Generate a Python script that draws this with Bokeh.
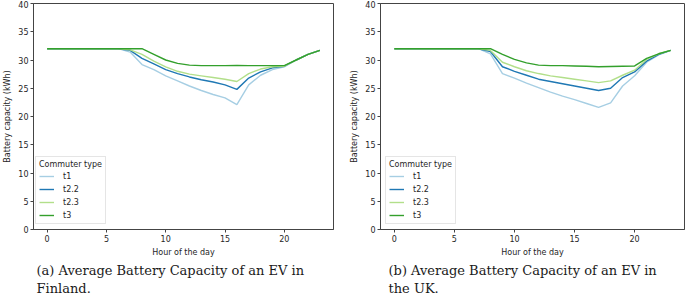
from bokeh.plotting import figure
from bokeh.layouts import row
from bokeh.models import FixedTicker, Title
from bokeh.embed import file_html
from bokeh.resources import INLINE

hours = list(range(24))
series_names = ["t1", "t2.2", "t2.3", "t3"]
colors = ["#a6cee3", "#1f78b4", "#b2df8a", "#33a02c"]

fin_t1 = [32] * 7 + [31.4, 29.2, 28.3, 27.2, 26.3, 25.4, 24.6, 23.9, 23.3, 22.1, 25.6, 27.3, 28.3, 28.8, 30.0, 31.0, 31.7]
fin_t22 = [32] * 7 + [31.7, 30.3, 29.3, 28.3, 27.6, 27.0, 26.5, 26.1, 25.6, 24.8, 26.8, 27.9, 28.6, 28.9, 30.0, 31.0, 31.7]
fin_t23 = [32] * 7 + [31.8, 31.0, 29.8, 28.8, 28.0, 27.5, 27.2, 26.9, 26.6, 26.2, 27.6, 28.4, 28.8, 28.9, 30.0, 31.0, 31.7]
fin_t3 = [32] * 9 + [31.0, 30.0, 29.4, 29.1, 29.0, 29.0, 29.0, 29.05, 29.0, 29.0, 29.0, 29.0, 30.0, 31.0, 31.7]

uk_t1 = [32] * 8 + [31.1, 27.6, 26.8, 25.9, 25.1, 24.3, 23.6, 23.0, 22.3, 21.6, 22.4, 25.4, 27.2, 29.6, 30.9, 31.7]
uk_t22 = [32] * 8 + [31.5, 28.8, 28.0, 27.3, 26.6, 26.2, 25.8, 25.4, 25.0, 24.6, 25.0, 26.9, 27.9, 29.8, 31.0, 31.7]
uk_t23 = [32] * 8 + [31.7, 29.6, 28.8, 28.1, 27.6, 27.2, 26.9, 26.6, 26.3, 26.0, 26.3, 27.3, 28.2, 30.1, 31.1, 31.7]
uk_t3 = [32] * 9 + [31.0, 30.1, 29.5, 29.1, 29.0, 29.0, 28.95, 28.9, 28.8, 28.85, 28.9, 28.95, 30.3, 31.1, 31.7]

x_ticks = [0, 5, 10, 15, 20]
y_ticks = [0, 5, 10, 15, 20, 25, 30, 35, 40]

captions_fin = ["(a) Average Battery Capacity of an EV in", "Finland."]
captions_uk = ["(b) Average Battery Capacity of an EV in", "the UK."]

TXT = "#262626"
SP = "#444444"


def make_panel(series, caption, width, bl, br, leg_x, cap_off):
    p = figure(width=width, height=298, x_range=(-1.15, 24.15), y_range=(0, 40),
               output_backend="svg", toolbar_location=None,
               min_border_left=bl, min_border_right=br, min_border_top=3,
               min_border_bottom=69)
    p.xgrid.visible = False
    p.ygrid.visible = False
    p.outline_line_color = SP
    p.outline_line_width = 1
    for name, col, vals in zip(series_names, colors, series):
        p.line(hours, vals, line_color=col, line_width=1.4, legend_label=name)
    for ax in (p.xaxis[0], p.yaxis[0]):
        ax.axis_line_color = SP
        ax.major_tick_line_color = SP
        ax.minor_tick_line_color = None
        ax.major_tick_out = 3
        ax.major_tick_in = 0
        ax.major_label_standoff = 2
        ax.major_label_text_font = "DejaVu Sans"
        ax.major_label_text_font_size = "8px"
        ax.major_label_text_color = TXT
        ax.axis_label_text_font = "DejaVu Sans"
        ax.axis_label_text_font_size = "8px"
        ax.axis_label_text_font_style = "normal"
        ax.axis_label_text_color = TXT
        ax.axis_label_standoff = 3
    p.xaxis[0].ticker = FixedTicker(ticks=x_ticks)
    p.yaxis[0].ticker = FixedTicker(ticks=y_ticks)
    p.xaxis[0].axis_label = "Hour of the day"
    p.yaxis[0].axis_label = "Battery capacity (kWh)"

    lg = p.legend[0]
    lg.location = (leg_x, 5)
    lg.title = "Commuter type"
    lg.title_text_font = "DejaVu Sans"
    lg.title_text_font_size = "8px"
    lg.title_text_font_style = "normal"
    lg.title_text_color = TXT
    lg.title_standoff = 2
    lg.label_text_font = "DejaVu Sans"
    lg.label_text_font_size = "8px"
    lg.label_text_color = TXT
    lg.label_height = 10
    lg.glyph_height = 10
    lg.glyph_width = 15
    lg.label_standoff = 9
    lg.spacing = 3
    lg.padding = 3
    lg.margin = 0
    lg.border_line_color = "#cccccc"
    lg.border_line_width = 1
    lg.background_fill_alpha = 0.8

    standoffs = [3, -1]
    for line, so in zip(caption, standoffs):
        t = Title(text=line, align="left", offset=cap_off, text_font="DejaVu Serif",
                  text_font_size="13px", text_font_style="normal", text_color="#1a1a1a",
                  standoff=so)
        p.add_layout(t, "below")
    return p


p1 = make_panel([fin_t1, fin_t22, fin_t23, fin_t3], captions_fin, 345, 30, 12, 2, 3)
p2 = make_panel([uk_t1, uk_t22, uk_t23, uk_t3], captions_uk, 340, 35, 1, 5, 8)

layout = row(p1, p2, spacing=0)
open("out.html", "w").write(file_html(layout, INLINE))
